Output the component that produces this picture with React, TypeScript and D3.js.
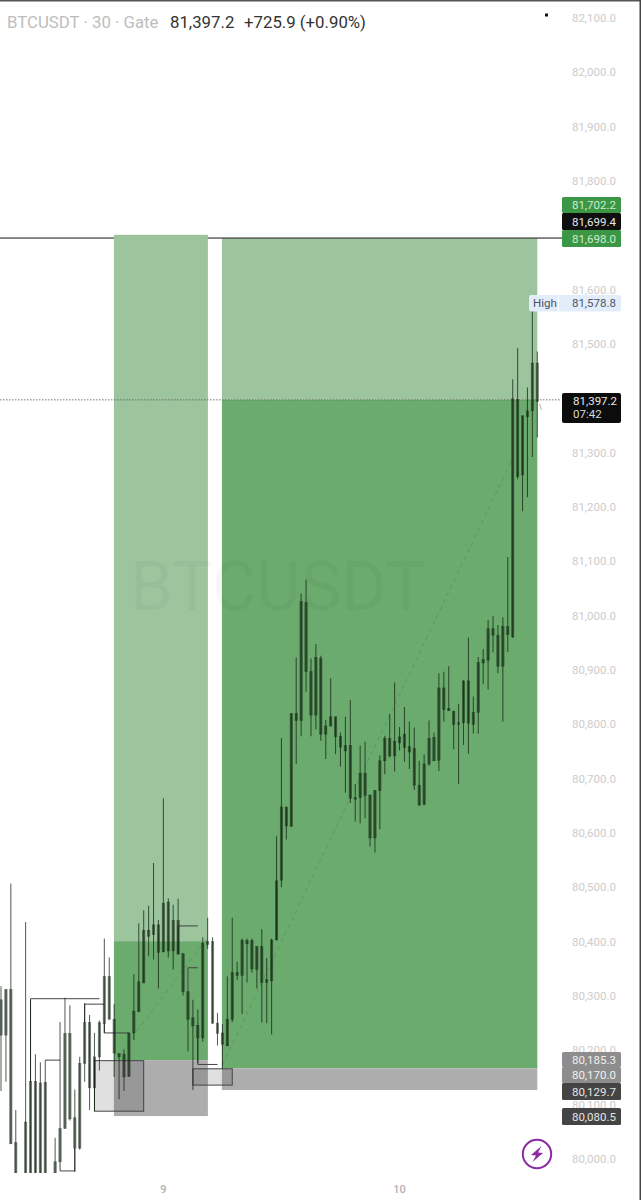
import React from "react";
import * as d3 from "d3";

// Candle values, one entry per 30-minute bar (bars 4 and 10 sit below the visible area)
const wickHigh = [80318,80312,80507,80090,79960,80436,80292,80193,80178,80182,79960,80039,80252,80297,80283,80128,80188,80287,80265,80232,80255,80406,80371,80285,80194,80201,80232,80340,80434,80458,80466,80545,80440,80664,80480,80468,80479,80378,80308,80293,80275,80408,80444,80408,80269,80248,80336,80444,80363,80406,80406,80406,80391,80423,80370,80406,80594,80775,80648,80820,80923,81041,81066,80921,80948,80926,80808,80885,80814,80785,80814,80845,80690,80761,80768,80670,80679,80743,80779,80819,80877,80795,80832,80805,80794,80733,80745,80807,80785,80894,80897,80907,80825,80838,80881,80960,80851,80924,80938,80992,80999,80983,80997,81108,81435,81492,81368,81420,81578.8,81486];
const wickLow = [80125,80142,80028,79950,79900,79950,79950,79950,79950,79950,79900,79950,79995,80056,80071,79976,80017,80142,80090,80088,80163,80232,80257,80151,80110,80125,80151,80219,80271,80324,80373,80367,80314,80381,80371,80349,80377,80301,80198,80127,80176,80216,80387,80249,80209,80166,80208,80252,80330,80267,80325,80343,80314,80251,80250,80229,80403,80500,80588,80612,80727,80778,80860,80778,80791,80770,80736,80796,80745,80722,80674,80655,80621,80618,80627,80575,80564,80607,80708,80739,80713,80752,80731,80718,80679,80651,80651,80724,80733,80714,80805,80825,80754,80690,80762,80746,80783,80783,80874,80864,80932,80894,80805,80933,80959,81251,81192,81218,81292,81328];
const bodyTop = [80293,80312,80312,80030,79950,80068,80143,80143,80140,80141,79950,79995,80056,80231,80231,80076,80176,80251,80251,80188,80251,80336,80336,80257,80194,80193,80232,80272,80326,80421,80421,80431,80431,80471,80473,80439,80439,80378,80308,80260,80246,80397,80400,80400,80250,80232,80257,80343,80343,80402,80402,80402,80391,80391,80330,80403,80512,80648,80648,80820,80820,81026,81024,80897,80923,80921,80797,80814,80814,80778,80761,80761,80665,80710,80710,80670,80678,80733,80774,80774,80769,80777,80782,80759,80756,80688,80727,80774,80776,80867,80867,80829,80824,80803,80880,80880,80822,80914,80919,80976,80976,80964,80980,80980,81399,81398,81368,81377,81465,81465];
const bodyBottom = [80228,80228,80028,79950,79920,79950,79950,79950,79950,79950,79920,79950,79995,80056,80074,80020,80020,80176,80131,80131,80188,80249,80257,80195,80188,80151,80152,80232,80271,80324,80410,80413,80380,80381,80383,80383,80377,80308,80257,80245,80223,80223,80395,80250,80231,80211,80208,80257,80338,80338,80396,80350,80349,80325,80325,80328,80403,80513,80613,80612,80807,80807,80897,80817,80817,80782,80782,80797,80777,80758,80751,80664,80663,80665,80669,80591,80591,80678,80733,80742,80742,80766,80757,80749,80688,80651,80653,80727,80733,80734,80827,80825,80800,80800,80803,80802,80800,80822,80913,80918,80964,80907,80907,80965,80961,81256,81259,81366,81377,81394];

// Axis (81,400 and 81,700 are covered by the price tags in the picture)
const priceTicks = d3.range(80000, 82101, 100).filter((p) => p !== 81400 && p !== 81700);
const dateTicks = [{ bar: 33, label: "9" }, { bar: 81, label: "10" }];

// Position zones
const zoneLeft = { from: 22.95, to: 42.05, target: 81701, entry: 80401, stop: 80182, bottom: 80079 };
const zoneRight = { from: 44.9, to: 109, target: 81695, entry: 81397.2, stop: 80167, bottom: 80127 };

// Structure lines: lists of [bar, price]
const structureLines: [number, number][][] = [
  [[6, 80143], [6, 80295], [20, 80295]],
  [[9, 80182], [12, 80182]],
  [[12, 79995], [12, 79978], [15, 79978], [15, 80020]],
  [[17, 80251], [17, 80285], [21, 80285]],
  [[21, 80249], [21, 80232], [26, 80232]],
  [[36, 80377], [36, 80429], [40, 80429]],
  [[38, 80308], [38, 80352], [40, 80352]],
  [[40, 80223], [40, 80174], [44, 80174]],
];
const structureBoxes = [
  { from: 19, to: 29, top: 80181, bottom: 80088 },
  { from: 39, to: 47, top: 80166, bottom: 80136 },
];
const diagonals: [number, number][][] = [
  [[24.6, 80199], [42, 80408]],
  [[45, 80173], [104, 81290]],
];

const levelLine = 81695;
const lastPrice = 81397.2;

const priceTags = [
  { label: "81,702.2", y: 197, h: 16, fill: "#3b9745", color: "#cfeccf" },
  { label: "81,699.4", y: 213, h: 17, fill: "#0f0f0f", color: "#e8e8e8" },
  { label: "81,698.0", y: 230, h: 17, fill: "#3b9745", color: "#cfeccf" },
  { label: "80,185.3", y: 1052, h: 15, fill: "#8d8d8d", color: "#f0f0f0" },
  { label: "80,170.0", y: 1067, h: 16, fill: "#8d8d8d", color: "#f0f0f0" },
  { label: "80,129.7", y: 1083, h: 17, fill: "#444444", color: "#e4e4e4" },
  { label: "80,080.5", y: 1108, h: 17, fill: "#444444", color: "#e4e4e4" },
];

const font = "Roboto, sans-serif";

export default function App() {
  const x = d3.scaleLinear().domain([0, 109]).range([1, 537.3]);
  const y = d3.scaleLinear().domain([82100, 80000]).range([18, 1159]);
  const line = d3.line<[number, number]>().x((d) => x(d[0])).y((d) => y(d[1]));

  const zone = (z: typeof zoneLeft) => (
    <g>
      <rect x={x(z.from)} width={x(z.to) - x(z.from)} y={y(z.target)} height={y(z.entry) - y(z.target)} fill="#9cc59d" />
      <rect x={x(z.from)} width={x(z.to) - x(z.from)} y={y(z.entry)} height={y(z.stop) - y(z.entry)} fill="#6bab6d" />
      <rect x={x(z.from)} width={x(z.to) - x(z.from)} y={y(z.stop)} height={y(z.bottom) - y(z.stop)} fill="#adadad" />
    </g>
  );

  return (
    <svg width={643} height={1200} style={{ position: "absolute", left: 0, top: 0, background: "#fff" }} fontFamily={font}>
      <defs>
        <clipPath id="plot"><rect x={0} y={0} width={560} height={1173} /></clipPath>
      </defs>
      {zone(zoneRight)}
      <rect x={0} y={y(levelLine) - 0.6} width={562} height={1.2} fill="#3a3a3a" />
      {zone(zoneLeft)}
      <text x={130} y={610} fontSize={68.5} fill="#000" fillOpacity={0.03}>BTCUSDT</text>
      <line x1={0} x2={560} y1={y(lastPrice)} y2={y(lastPrice)} stroke="#555" strokeWidth={0.8} strokeDasharray="1.5 1.5" />
      {diagonals.map((d, i) => (
        <path key={i} d={line(d) ?? ""} fill="none" stroke="#3f7a4a" strokeOpacity={0.4} strokeWidth={1} strokeDasharray="4 4" />
      ))}
      {structureBoxes.map((b, i) => (
        <rect key={i} x={x(b.from)} y={y(b.top)} width={x(b.to) - x(b.from)} height={y(b.bottom) - y(b.top)} fill="#000" fillOpacity={0.12} stroke="#444" strokeWidth={1} />
      ))}
      <g clipPath="url(#plot)">
        {structureLines.map((d, i) => (
          <path key={i} d={line(d) ?? ""} fill="none" stroke="#444" strokeWidth={1} />
        ))}
        {wickHigh.map((h, i) => (
          <g key={i}>
            <line x1={x(i)} x2={x(i)} y1={y(h)} y2={y(wickLow[i])} stroke="#10200f" strokeOpacity={0.7} strokeWidth={1.05} />
            <rect
              x={x(i) - 1.2}
              width={2.4}
              y={y(bodyTop[i])}
              height={Math.max(1.5, y(bodyBottom[i]) - y(bodyTop[i]))}
              fill="#10200f"
              fillOpacity={0.5}
              stroke="#10200f"
              strokeOpacity={0.5}
              strokeWidth={0.6}
            />
          </g>
        ))}
      </g>
      <path d="M539.5 404 L541.5 410" stroke="#999" strokeWidth={0.8} />
      <rect x={545} y={13.5} width={3} height={3} fill="#111" />

      {priceTicks.map((p) => (
        <text key={p} x={616} y={y(p) + 4} textAnchor="end" fontSize={11.5} fill="#cccccc">
          {d3.format(",.1f")(p)}
        </text>
      ))}
      {dateTicks.map((t) => (
        <text key={t.label} x={x(t.bar)} y={1193} textAnchor="middle" fontSize={11} fontWeight={500} fill="#b0b0b0">{t.label}</text>
      ))}

      <rect x={529} y={295} width={92} height={16.5} rx={2} fill="#e3edfa" />
      <rect x={558} y={295} width={1} height={16.5} fill="#fff" />
      <text x={533} y={307} fontSize={11.5} fill="#4a5568">High</text>
      <text x={616} y={307} textAnchor="end" fontSize={11.5} fill="#4a5568">81,578.8</text>

      <rect x={562} y={393} width={59} height={30} rx={2} fill="#0c0c0c" />
      <text x={573} y={405} fontSize={11.5} fill="#e8e8e8">81,397.2</text>
      <text x={573} y={418} fontSize={11.5} fill="#d8d8d8">07:42</text>

      {priceTags.map((t) => (
        <g key={t.label}>
          <rect x={562} y={t.y} width={59} height={t.h} rx={1.5} fill={t.fill} />
          <text x={616} y={t.y + t.h / 2 + 4} textAnchor="end" fontSize={11.5} fill={t.color}>{t.label}</text>
        </g>
      ))}

      <circle cx={537} cy={1154} r={14.2} fill="#fff" stroke="#8a2ca0" strokeWidth={2} />
      <path d="M541.5 1146 L531 1155 L536 1155.5 L532.5 1162 L543 1153 L538 1152.5 Z" fill="#8a2ca0" />

      <rect x={0} y={0} width={641} height={1.5} fill="#555" />
      <rect x={639.5} y={0} width={1.5} height={1200} fill="#444" />

      <text x={7} y={28} fontSize={16.8} fill="#bdbdbd">BTCUSDT · 30 · Gate</text>
      <text x={170} y={28} fontSize={16.8} fill="#333">81,397.2</text>
      <text x={244} y={28} fontSize={16.8} fill="#333">+725.9 (+0.90%)</text>
    </svg>
  );
}
